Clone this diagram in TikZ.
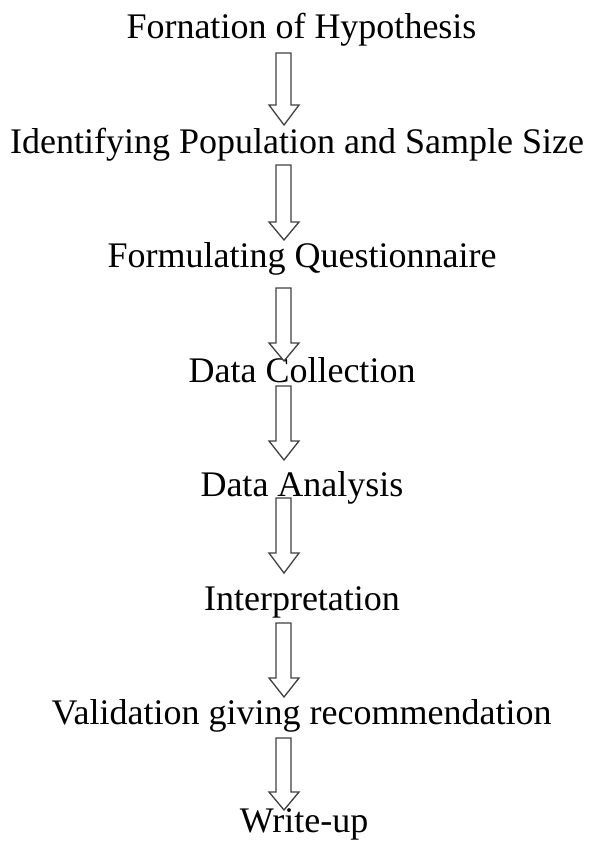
\documentclass[tikz,border=0pt]{standalone}
\usepackage{fontspec}
\setmainfont{Liberation Serif}
\begin{document}
\begin{tikzpicture}[x=1pt,y=-1pt,
  lbl/.style={anchor=base,inner sep=0pt,font=\fontsize{36}{40}\selectfont},
  blockarrow/.style={draw=black!75,line width=1.3pt,line join=miter,fill=white}]
\useasboundingbox (0,0) rectangle (594,841);
\newcommand{\barrow}[3]{%
  \draw[blockarrow] (276,#1) -- (291,#1) -- (291,#2) -- (299,#2) -- (284,#3) -- (269,#2) -- (276,#2) -- cycle;}
\node[lbl] (t1) at (301.5,38) {Fornation of Hypothesis};
\node[lbl] (t2) at (297,153) {Identifying Population and Sample Size};
\node[lbl] (t3) at (302,267) {Formulating Questionnaire};
\node[lbl] (t4) at (302,382) {Data Collection};
\node[lbl] (t5) at (302,496) {Data Analysis};
\node[lbl] (t6) at (302,610) {Interpretation};
\node[lbl] (t7) at (301.5,724) {Validation giving recommendation};
\node[lbl] (t8) at (304,832) {Write-up};
\barrow{53}{105}{125}
\barrow{165}{222}{240}
\barrow{288}{343}{361}
\barrow{386}{441}{460}
\barrow{498}{553}{573}
\barrow{623}{678}{697}
\barrow{738}{792}{810}
\end{tikzpicture}
\end{document}
